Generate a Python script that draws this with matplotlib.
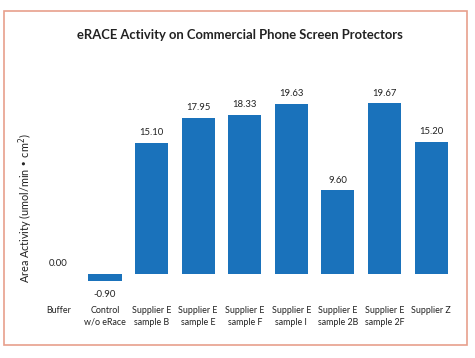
"""
eRACE activity bar chart on commercial phone screen protectors.
"""

import matplotlib
matplotlib.use('Agg')
from matplotlib import pyplot as plt
from matplotlib.patches import Rectangle

categories = ['Buffer', 'Control\nw/o eRace', 'Supplier E\nsample B', 'Supplier E\nsample E',
              'Supplier E\nsample F', 'Supplier E\nsample I', 'Supplier E\nsample 2B',
              'Supplier E\nsample 2F', 'Supplier Z']
activity = [0.00, -0.90, 15.10, 17.95, 18.33, 19.63, 9.60, 19.67, 15.20]
value_labels = ['0.00', '-0.90', '15.10', '17.95', '18.33', '19.63', '9.60', '19.67', '15.20']

BAR_COLOR = '#1a72bb'
TEXT_COLOR = '#222222'

plt.rcParams['font.family'] = ['Lato', 'DejaVu Sans']

fig = plt.figure(figsize=(4.75, 3.58), dpi=100)
ax = fig.add_axes([30 / 475, 0.162, 430 / 475, 0.6425])

x = list(range(len(categories)))
ax.bar(x, activity, width=0.71, color=BAR_COLOR, linewidth=0)

for xi, val, lab in zip(x, activity, value_labels):
    if val < 0:
        ax.annotate(lab, (xi, val), xytext=(0, -6), textcoords='offset points',
                    ha='center', va='top', fontsize=6.8, color=TEXT_COLOR)
    else:
        ax.annotate(lab, (xi, val), xytext=(0, 4), textcoords='offset points',
                    ha='center', va='bottom', fontsize=6.8, color=TEXT_COLOR)

ax.set_xlim(-0.61, 8.62)
ax.set_ylim(-3.06, 23.5)
ax.set_xticks(x)
ax.set_xticklabels(categories, fontsize=6.4, color=TEXT_COLOR, linespacing=1.35)
ax.tick_params(axis='x', length=0, pad=4.5)
ax.set_yticks([])
for s in ax.spines.values():
    s.set_visible(False)

ax.set_ylabel('Area Activity (umol/min \u2022 cm$^2$)', fontsize=7.8, color=TEXT_COLOR)
ax.yaxis.set_label_coords(0.012, 0.40)

fig.text(0.505, 0.902, 'eRACE Activity on Commercial Phone Screen Protectors',
         ha='center', va='center', fontsize=9.4, fontweight='bold', color=TEXT_COLOR)

fig.patches.append(Rectangle((4 / 475, 13 / 358), 463 / 475, 334 / 358, transform=fig.transFigure,
                             fill=False, edgecolor='#e8a08c', linewidth=1.2))

fig.savefig('out.png', dpi=100)
